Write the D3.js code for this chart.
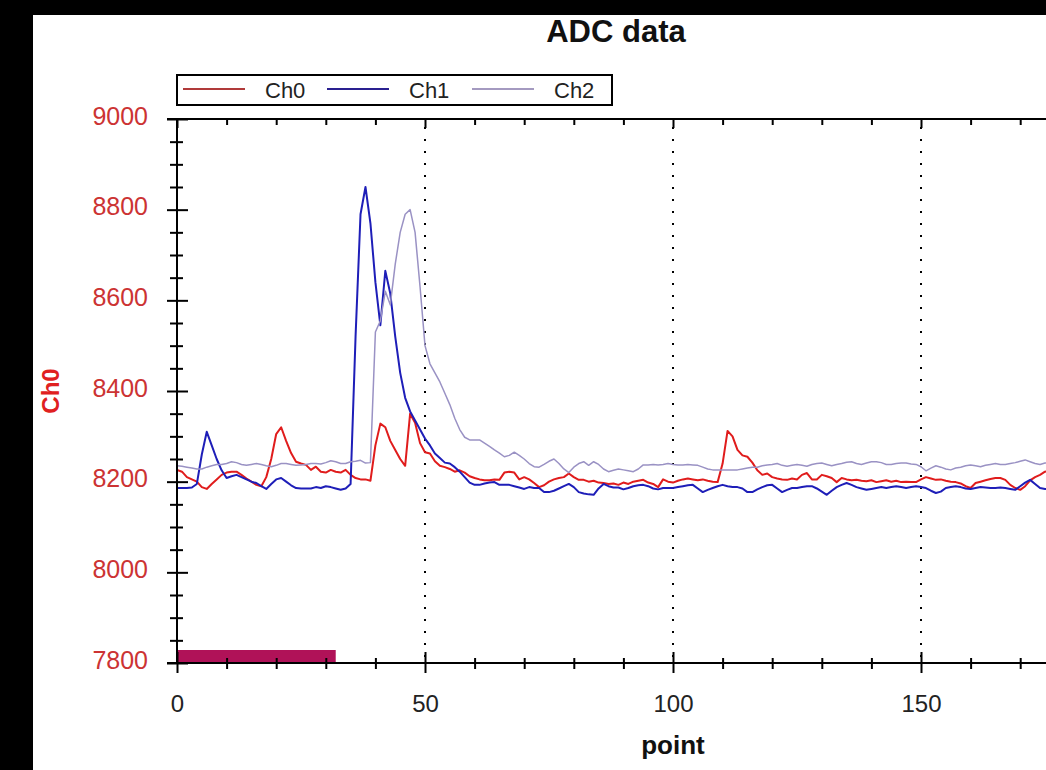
<!DOCTYPE html>
<html><head><meta charset="utf-8">
<script src="https://cdn.jsdelivr.net/npm/d3@7"></script>
<style>html,body{margin:0;padding:0;background:#000;}svg{display:block;}</style>
</head><body>
<script>
const seriesNames = ["Ch0", "Ch1", "Ch2"];
const ch0 = [
8226,8222,8210,8205,8200,8188,8184,8195,8205,8215,
8220,8222,8222,8215,8207,8200,8193,8190,8210,8250,
8305,8320,8290,8263,8244,8240,8237,8226,8233,8222,
8220,8226,8222,8220,8226,8215,8208,8205,8205,8202,
8280,8328,8320,8290,8270,8250,8235,8350,8330,8285,
8265,8262,8245,8235,8232,8228,8222,8225,8220,8212,
8208,8205,8203,8203,8205,8204,8220,8222,8220,8205,
8210,8205,8197,8188,8192,8200,8205,8208,8210,8218,
8210,8204,8204,8200,8202,8198,8197,8195,8196,8193,
8198,8195,8200,8202,8204,8198,8195,8188,8205,8200,
8198,8202,8205,8207,8205,8203,8205,8202,8200,8199,
8240,8312,8300,8270,8258,8255,8242,8225,8215,8218,
8210,8207,8205,8204,8207,8205,8215,8219,8205,8205,
8215,8212,8208,8199,8208,8205,8203,8204,8202,8201,
8203,8199,8201,8203,8200,8202,8199,8200,8199,8199,
8205,8210,8207,8204,8205,8202,8200,8199,8196,8190,
8186,8197,8200,8203,8206,8208,8208,8204,8193,8186,
8182,8190,8203,8210,8215,8222,8225];
const ch1 = [
8186,8186,8186,8187,8195,8260,8310,8280,8250,8225,
8208,8212,8215,8210,8205,8200,8197,8190,8184,8195,
8205,8208,8200,8192,8186,8185,8185,8185,8188,8186,
8190,8188,8185,8182,8185,8195,8520,8790,8850,8770,
8640,8545,8665,8615,8520,8440,8385,8355,8335,8315,
8295,8280,8262,8252,8242,8240,8232,8222,8210,8198,
8193,8193,8196,8198,8199,8193,8193,8193,8190,8187,
8184,8188,8186,8186,8177,8177,8180,8185,8190,8195,
8188,8177,8174,8172,8171,8185,8195,8190,8187,8187,
8183,8186,8190,8192,8193,8190,8185,8183,8186,8186,
8186,8188,8190,8192,8193,8185,8177,8182,8186,8190,
8193,8190,8188,8188,8185,8177,8177,8183,8188,8192,
8193,8185,8177,8182,8186,8186,8188,8190,8190,8185,
8178,8171,8180,8188,8193,8197,8193,8188,8185,8182,
8184,8186,8188,8186,8188,8190,8188,8186,8188,8190,
8188,8186,8180,8175,8178,8186,8188,8190,8188,8185,
8184,8186,8188,8187,8186,8186,8187,8186,8184,8182,
8190,8198,8204,8195,8186,8184,8184];
const ch2 = [
8235,8234,8232,8230,8228,8228,8232,8235,8238,8238,
8240,8244,8242,8238,8236,8238,8240,8238,8235,8233,
8236,8240,8240,8238,8236,8237,8238,8240,8240,8239,
8242,8246,8244,8240,8240,8244,8245,8247,8241,8242,
8530,8555,8620,8590,8680,8750,8790,8800,8750,8630,
8500,8460,8440,8420,8395,8370,8340,8315,8298,8292,
8292,8292,8285,8278,8270,8263,8255,8258,8265,8258,
8250,8240,8233,8232,8238,8245,8250,8240,8228,8220,
8232,8240,8244,8236,8244,8238,8228,8222,8225,8228,
8226,8224,8222,8228,8237,8237,8238,8237,8238,8240,
8238,8237,8237,8238,8237,8236,8232,8228,8226,8226,
8226,8226,8226,8226,8228,8230,8232,8232,8235,8237,
8238,8240,8236,8234,8236,8238,8236,8234,8238,8240,
8241,8238,8235,8238,8240,8243,8244,8240,8238,8241,
8244,8244,8242,8238,8238,8240,8241,8241,8239,8238,
8233,8224,8230,8235,8232,8228,8226,8230,8232,8235,
8237,8235,8233,8236,8238,8240,8238,8238,8240,8242,
8245,8248,8244,8240,8238,8241,8242];
const xTickLabels = [0, 50, 100, 150];
const yTickLabels = [7800, 8000, 8200, 8400, 8600, 8800, 9000];
const markerRange = [0, 32];
const titleText = "ADC data";
const xTitle = "point";
const yTitle = "Ch0";

const colors = ["#e01c1c", "#1e1eb8", "#9a92c4"];
const legendColors = ["#b03a3a", "#2a2090", "#a49ac0"];
const widths = [2, 2, 1.5];

const W = 1046, H = 770;
const svg = d3.select("body").append("svg").attr("width", W).attr("height", H);
svg.append("rect").attr("width", W).attr("height", H).attr("fill", "#000");
svg.append("rect").attr("x", 33).attr("y", 15).attr("width", W - 33).attr("height", H - 15).attr("fill", "#fff");

const x = d3.scaleLinear().domain([0, 200]).range([177, 1169]);
const y = d3.scaleLinear().domain([7800, 9000]).range([663, 119]);
const font = "'Liberation Sans', Arial, sans-serif";

svg.append("defs").append("clipPath").attr("id", "clip")
  .append("rect").attr("x", x(0)).attr("y", y(9000)).attr("width", W - x(0)).attr("height", y(7800) - y(9000));

// dotted vertical grid
svg.append("g").selectAll("line").data(xTickLabels.filter(d => d > 0)).join("line")
  .attr("x1", d => x(d)).attr("x2", d => x(d))
  .attr("y1", y(9000) + 8).attr("y2", y(7800))
  .attr("stroke", "#000").attr("stroke-width", 2).attr("stroke-dasharray", "2,10");

// marker bar
svg.append("rect").attr("x", x(markerRange[0])).attr("y", y(7800) - 13)
  .attr("width", x(markerRange[1]) - x(markerRange[0])).attr("height", 13).attr("fill", "#b01258");

// lines
const plot = svg.append("g").attr("clip-path", "url(#clip)");
[ch0, ch1, ch2].forEach((s, k) => {
  const line = d3.line().x((d, i) => x(i)).y(d => y(d));
  plot.append("path").datum(s).attr("d", line).attr("fill", "none")
    .attr("stroke", colors[k]).attr("stroke-width", widths[k]).attr("stroke-linejoin", "round");
});

// axis lines
svg.append("line").attr("x1", x(0)).attr("x2", x(0)).attr("y1", y(9000)).attr("y2", y(7800)).attr("stroke", "#000").attr("stroke-width", 2);
svg.append("line").attr("x1", x(0) - 10).attr("x2", W).attr("y1", y(9000)).attr("y2", y(9000)).attr("stroke", "#000").attr("stroke-width", 2);
svg.append("line").attr("x1", x(0) - 10).attr("x2", W).attr("y1", y(7800)).attr("y2", y(7800)).attr("stroke", "#000").attr("stroke-width", 2);

// bottom axis
const xMajorAll = x.ticks(4);
const xMinor = x.ticks(20).filter(d => !xMajorAll.includes(d));
const gB = svg.append("g").attr("transform", `translate(0,${y(7800)})`)
  .call(d3.axisBottom(x).tickValues(xTickLabels).tickSize(10).tickFormat(d3.format("d")));
gB.select(".domain").remove();
gB.selectAll(".tick line").attr("y1", -11).attr("y2", 10).attr("stroke", "#000").attr("stroke-width", 2);
gB.selectAll(".tick text").attr("y", 49).attr("dy", 0).attr("fill", "#222")
  .style("font-family", font).style("font-size", "24px");
const gBm = svg.append("g").attr("transform", `translate(0,${y(7800)})`)
  .call(d3.axisBottom(x).tickValues(xMinor).tickSize(6).tickFormat(""));
gBm.select(".domain").remove();
gBm.selectAll(".tick line").attr("y1", -5).attr("y2", 6).attr("stroke", "#000").attr("stroke-width", 2);

// top axis (ticks inward)
const gT = svg.append("g").attr("transform", `translate(0,${y(9000)})`)
  .call(d3.axisBottom(x).tickValues(xMajorAll).tickSize(9).tickFormat(""));
gT.select(".domain").remove();
gT.selectAll(".tick line").attr("stroke", "#000").attr("stroke-width", 2);
const gTm = svg.append("g").attr("transform", `translate(0,${y(9000)})`)
  .call(d3.axisBottom(x).tickValues(xMinor).tickSize(6).tickFormat(""));
gTm.select(".domain").remove();
gTm.selectAll(".tick line").attr("stroke", "#000").attr("stroke-width", 2);

// left axis
const yMinor = y.ticks(24).filter(d => !yTickLabels.includes(d));
const gL = svg.append("g").attr("transform", `translate(${x(0)},0)`)
  .call(d3.axisLeft(y).tickValues(yTickLabels).tickSize(10).tickFormat(d3.format("d")));
gL.select(".domain").remove();
gL.selectAll(".tick line").attr("x1", 11).attr("x2", -10).attr("stroke", "#000").attr("stroke-width", 2);
gL.selectAll(".tick text").attr("x", -29).attr("dy", "0.2em").attr("fill", "#cc3333")
  .style("font-family", font).style("font-size", "25px");
const gLm = svg.append("g").attr("transform", `translate(${x(0)},0)`)
  .call(d3.axisLeft(y).tickValues(yMinor).tickSize(7).tickFormat(""));
gLm.select(".domain").remove();
gLm.selectAll(".tick line").attr("x1", 6).attr("x2", -7).attr("stroke", "#000").attr("stroke-width", 2);

// titles
svg.append("text").attr("x", 616).attr("y", 42).attr("text-anchor", "middle")
  .style("font-family", font).style("font-weight", "bold").style("font-size", "31px").attr("fill", "#111").text(titleText);
svg.append("text").attr("x", x(100)).attr("y", 754).attr("text-anchor", "middle")
  .style("font-family", font).style("font-weight", "bold").style("font-size", "26px").attr("fill", "#111").text(xTitle);
svg.append("text").attr("transform", `translate(59,${(y(9000) + y(7800)) / 2}) rotate(-90)`).attr("text-anchor", "middle")
  .style("font-family", font).style("font-weight", "bold").style("font-size", "24px").attr("fill", "#e02020").text(yTitle);

// legend
const lg = svg.append("g");
lg.append("rect").attr("x", 177).attr("y", 75).attr("width", 435).attr("height", 30)
  .attr("fill", "#fff").attr("stroke", "#000").attr("stroke-width", 2);
const legX = [183, 327, 472];
seriesNames.forEach((n, k) => {
  lg.append("line").attr("x1", legX[k]).attr("x2", legX[k] + 62).attr("y1", 89).attr("y2", 89)
    .attr("stroke", legendColors[k]).attr("stroke-width", 2);
  lg.append("text").attr("x", legX[k] + 82).attr("y", 98)
    .style("font-family", font).style("font-size", "22px").attr("fill", "#222").text(n);
});
</script>
</body></html>
